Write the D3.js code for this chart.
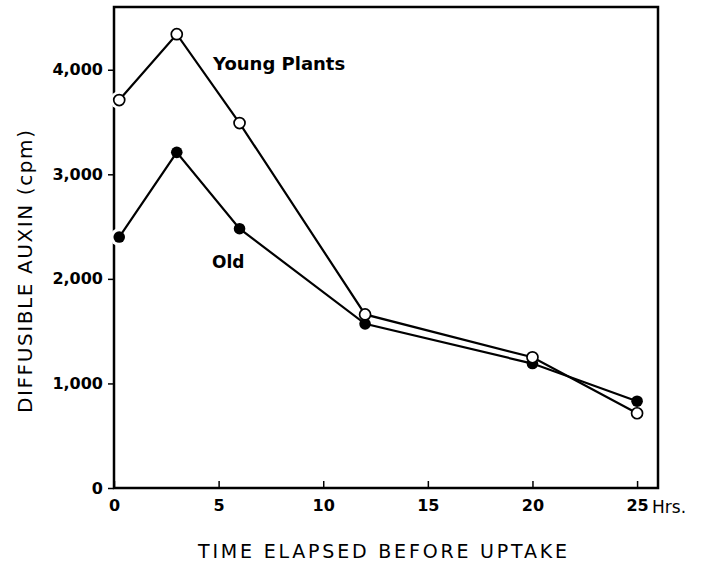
<!DOCTYPE html>
<html>
<head>
<meta charset="utf-8">
<script src="https://cdn.jsdelivr.net/npm/d3@7"></script>
<style>
  body { margin: 0; background: #fff; }
  svg { display: block; font-family: "DejaVu Sans", sans-serif; }
</style>
</head>
<body>
<div id="chart"></div>
<script>
// data
var hours = [0.25, 3, 6, 12, 20, 25];
var youngPlants = [3710, 4340, 3490, 1660, 1250, 715];
var oldPlants = [2400, 3210, 2480, 1570, 1190, 830];
var xTicks = [0, 5, 10, 15, 20, 25];
var yTicks = [0, 1000, 2000, 3000, 4000];

var width = 702, height = 565;
var margin = { top: 7, right: 44, bottom: 77, left: 114 };

var svg = d3.select("#chart")
  .append("svg")
  .attr("width", width)
  .attr("height", height);

var x = d3.scaleLinear()
  .domain([0, 26])
  .range([margin.left, width - margin.right]);

var y = d3.scaleLinear()
  .domain([0, 4600])
  .range([height - margin.bottom, margin.top]);

// frame
svg.append("rect")
  .attr("x", x(0))
  .attr("y", y(4600))
  .attr("width", x(26) - x(0))
  .attr("height", y(0) - y(4600))
  .attr("fill", "none")
  .attr("stroke", "#000")
  .attr("stroke-width", 2.5);

// y axis - ticks point outward
var yAxis = svg.append("g")
  .attr("transform", "translate(" + x(0) + ",0)")
  .call(d3.axisLeft(y).tickValues(yTicks).tickSize(6).tickPadding(5)
    .tickFormat(d3.format(",")));
yAxis.select(".domain").remove();
yAxis.selectAll("line").attr("stroke-width", 1.5);
yAxis.selectAll("text")
  .attr("font-family", "DejaVu Sans")
  .attr("font-size", 16)
  .attr("font-weight", "bold")
  .attr("fill", "#000");

// x axis - ticks point inward
var xAxis = svg.append("g")
  .attr("transform", "translate(0," + y(0) + ")")
  .call(d3.axisBottom(x).tickValues(xTicks).tickSizeInner(-7).tickSizeOuter(0).tickPadding(12));
xAxis.select(".domain").remove();
xAxis.selectAll("line").attr("stroke-width", 1.5);
xAxis.selectAll("text")
  .attr("font-family", "DejaVu Sans")
  .attr("font-size", 16)
  .attr("font-weight", "bold")
  .attr("fill", "#000");

svg.append("text")
  .attr("x", x(25) + 15)
  .attr("y", y(0) + 25)
  .attr("font-size", 17)
  .text("Hrs.");

// axis titles
svg.append("text")
  .attr("x", 198)
  .attr("y", 558)
  .attr("font-size", 19)
  .attr("textLength", 369)
  .attr("lengthAdjust", "spacing")
  .text("TIME ELAPSED BEFORE UPTAKE");

svg.append("text")
  .attr("transform", "translate(32,413) rotate(-90)")
  .attr("font-size", 20)
  .attr("textLength", 283)
  .attr("lengthAdjust", "spacing")
  .text("DIFFUSIBLE AUXIN (cpm)");

var young = hours.map(function(h, i) { return { h: h, v: youngPlants[i] }; });
var old = hours.map(function(h, i) { return { h: h, v: oldPlants[i] }; });

var line = d3.line()
  .x(function(d) { return x(d.h); })
  .y(function(d) { return y(d.v); });

// white halos break the axis around the markers
svg.selectAll(".halo")
  .data(young.concat(old))
  .enter()
  .append("circle")
  .attr("cx", function(d) { return x(d.h); })
  .attr("cy", function(d) { return y(d.v); })
  .attr("r", 9)
  .attr("fill", "#fff");

[old, young].forEach(function(series) {
  svg.append("path")
    .datum(series)
    .attr("d", line)
    .attr("fill", "none")
    .attr("stroke", "#000")
    .attr("stroke-width", 2.2);
});

svg.selectAll(".oldPt")
  .data(old)
  .enter()
  .append("circle")
  .attr("class", "oldPt")
  .attr("cx", function(d) { return x(d.h); })
  .attr("cy", function(d) { return y(d.v); })
  .attr("r", 5.8)
  .attr("fill", "#000");

svg.selectAll(".youngPt")
  .data(young)
  .enter()
  .append("circle")
  .attr("class", "youngPt")
  .attr("cx", function(d) { return x(d.h); })
  .attr("cy", function(d) { return y(d.v); })
  .attr("r", 5.5)
  .attr("fill", "#fff")
  .attr("stroke", "#000")
  .attr("stroke-width", 1.7);

// series labels
svg.append("text")
  .attr("x", 213)
  .attr("y", 70)
  .attr("font-size", 18)
  .attr("font-weight", "bold")
  .text("Young Plants");

svg.append("text")
  .attr("x", 212)
  .attr("y", 268)
  .attr("font-size", 17)
  .attr("font-weight", "bold")
  .text("Old");
</script>
</body>
</html>
